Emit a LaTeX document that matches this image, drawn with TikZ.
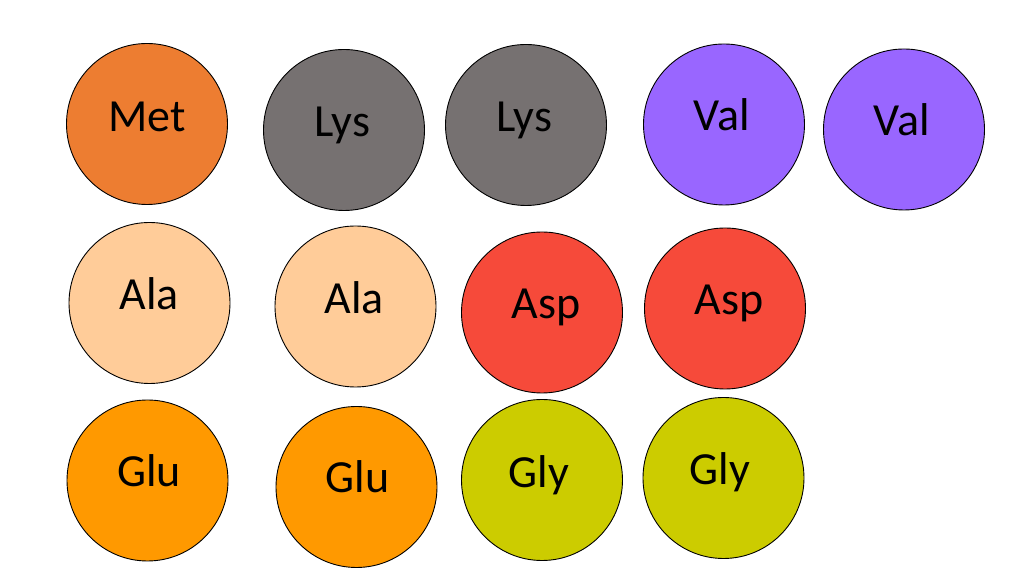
\documentclass[tikz,border=0pt]{standalone}
\usepackage{fontspec}
\setmainfont{Carlito}
\usepackage{xcolor}
\definecolor{metorange}{HTML}{ED7D31}
\definecolor{lysgray}{HTML}{767171}
\definecolor{valpurple}{HTML}{9966FF}
\definecolor{alapeach}{HTML}{FFCC99}
\definecolor{aspred}{HTML}{F64A3A}
\definecolor{gluorange}{HTML}{FF9900}
\definecolor{glyolive}{HTML}{CCCC00}

\begin{document}
\begin{tikzpicture}[x=0.5pt,y=-0.5pt,
		acid/.style={circle, draw=black, line width=0.45pt, minimum size=80.5pt, inner sep=0pt},
		acidname/.style={anchor=base, inner sep=0pt, font=\fontsize{23}{27}\selectfont}]
			\useasboundingbox (0,0) rectangle (1024,576);
			% first row
			\node[acid, fill=metorange] (met) at (147,124) {};
			\node[acidname] (metname) at (147,132) {Met};
			\node[acid, fill=lysgray] (lysA) at (344,130) {};
			\node[acidname] (lysAname) at (342,137) {Lys};
			\node[acid, fill=lysgray] (lysB) at (526,125) {};
			\node[acidname] (lysBname) at (524,132) {Lys};
			\node[acid, fill=valpurple] (valA) at (724,124.5) {};
			\node[acidname] (valAname) at (722,131) {Val};
			\node[acid, fill=valpurple] (valB) at (904,129.5) {};
			\node[acidname] (valBname) at (902,136) {Val};
			% second row
			\node[acid, fill=alapeach] (alaA) at (149.5,303) {};
			\node[acidname] (alaAname) at (149,310) {Ala};
			\node[acid, fill=alapeach] (alaB) at (355.5,306.5) {};
			\node[acidname] (alaBname) at (354,314) {Ala};
			\node[acid, fill=aspred] (aspA) at (542,312.5) {};
			\node[acidname] (aspAname) at (546,319) {Asp};
			\node[acid, fill=aspred] (aspB) at (725,308.5) {};
			\node[acidname] (aspBname) at (729,315) {Asp};
			% third row
			\node[acid, fill=gluorange] (gluA) at (147.5,480.5) {};
			\node[acidname] (gluAname) at (149,487) {Glu};
			\node[acid, fill=gluorange] (gluB) at (356.5,487) {};
			\node[acidname] (gluBname) at (357.5,493) {Glu};
			\node[acid, fill=glyolive] (glyA) at (542,480) {};
			\node[acidname] (glyAname) at (539,488) {Gly};
			\node[acid, fill=glyolive] (glyB) at (723.5,478) {};
			\node[acidname] (glyBname) at (720,485) {Gly};
		\end{tikzpicture}
\end{document}
